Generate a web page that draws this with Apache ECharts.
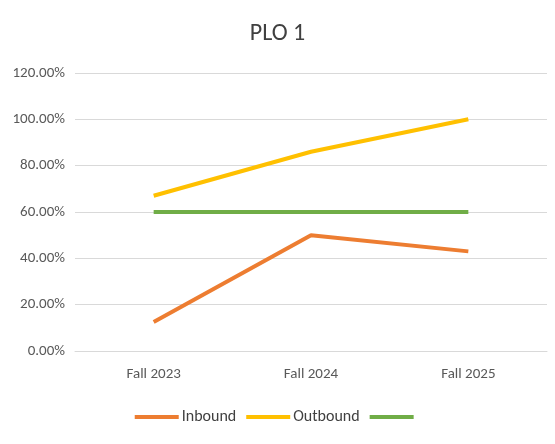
<!DOCTYPE html>
<html><head><meta charset="utf-8">
<script src="https://cdn.jsdelivr.net/npm/echarts@6/dist/echarts.min.js"></script>
<style>html,body{margin:0;padding:0;background:#fff}#c{width:555px;height:444px}</style>
</head><body><div id="c"></div>
<script>
const categories = ["Fall 2023", "Fall 2024", "Fall 2025"];
const inbound = [0.125, 0.50, 0.43];
const outbound = [0.67, 0.86, 1.00];
const target = [0.60, 0.60, 0.60];
const chart = echarts.init(document.getElementById('c'));
const font = "Calibri, Carlito, 'Liberation Sans', sans-serif";
chart.setOption({
  animation:false,
  title:{text:"PLO 1",left:'center',top:17,textStyle:{fontFamily:font,fontSize:24,fontWeight:'normal',color:'#404040'}},
  grid:{left:75,right:8,top:73,bottom:93},
  legend:{bottom:14,left:'center',itemWidth:44,itemHeight:4,itemGap:10,icon:'rect',
    textStyle:{fontFamily:font,fontSize:16,color:'#404040',padding:[0,0,0,-2]},
    data:['Inbound','Outbound',{name:' ',icon:'rect'}]},
  xAxis:{type:'category',data:categories,boundaryGap:true,
    axisLine:{lineStyle:{color:'#d9d9d9'}},axisTick:{show:false},
    axisLabel:{fontFamily:font,fontSize:15,color:'#595959',margin:16}},
  yAxis:{type:'value',min:0,max:1.2,interval:0.2,
    axisLabel:{formatter:v=>(v*100).toFixed(2)+'%',fontFamily:font,fontSize:15,color:'#595959',margin:10},
    splitLine:{lineStyle:{color:'#d9d9d9'}},axisLine:{show:false},axisTick:{show:false}},
  series:[
    {name:'Inbound',type:'line',data:inbound,symbol:'none',lineStyle:{width:4,color:'#ED7D31'},itemStyle:{color:'#ED7D31'}},
    {name:'Outbound',type:'line',data:outbound,symbol:'none',lineStyle:{width:4,color:'#FFC000'},itemStyle:{color:'#FFC000'}},
    {name:' ',type:'line',data:target,symbol:'none',lineStyle:{width:4,color:'#70AD47'},itemStyle:{color:'#70AD47'}}
  ]
});
</script></body></html>
